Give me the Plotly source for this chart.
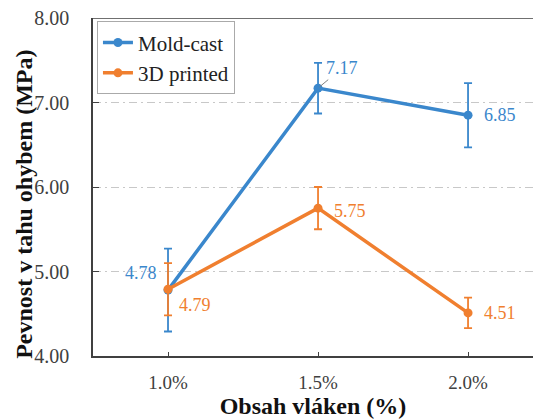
import plotly.graph_objects as go

categories = ["1.0%", "1.5%", "2.0%"]
mold_cast = [4.78, 7.17, 6.85]
mold_err = [0.49, 0.30, 0.38]
printed = [4.79, 5.75, 4.51]
printed_err = [0.31, 0.25, 0.18]
y_ticks = [4, 5, 6, 7, 8]
y_tick_labels = ["4.00", "5.00", "6.00", "7.00", "8.00"]
x_title = "Obsah vláken (%)"
y_title = "Pevnost v tahu ohybem (MPa)"

BLUE = "#3A87CC"
ORANGE = "#F07F2F"
FONT = "Liberation Serif"

fig = go.Figure()
fig.add_trace(go.Scatter(
    x=[0, 1, 2], y=mold_cast, name="Mold-cast", mode="lines+markers",
    line=dict(color=BLUE, width=3.5), marker=dict(size=9, color=BLUE),
    error_y=dict(type="data", array=mold_err, color=BLUE, thickness=1.8, width=4),
))
fig.add_trace(go.Scatter(
    x=[0, 1, 2], y=printed, name="3D printed", mode="lines+markers",
    line=dict(color=ORANGE, width=3.5), marker=dict(size=9, color=ORANGE),
    error_y=dict(type="data", array=printed_err, color=ORANGE, thickness=1.8, width=4),
))

# data labels
lab_font = dict(family=FONT, size=18)
fig.add_annotation(x=1, y=mold_cast[1], text=f"{mold_cast[1]:.2f}", showarrow=True,
                   ax=24, ay=-20, arrowhead=0, arrowwidth=1, arrowcolor="#808080",
                   standoff=2, font=dict(color=BLUE, **lab_font))
fig.add_annotation(x=2, y=mold_cast[2], text=f"{mold_cast[2]:.2f}", showarrow=False,
                   xshift=14, xanchor="left", yanchor="middle",
                   font=dict(color=BLUE, **lab_font))
fig.add_annotation(x=0, y=mold_cast[0], text=f"{mold_cast[0]:.2f}", showarrow=False,
                   xshift=-9, yshift=17, xanchor="right", yanchor="middle",
                   font=dict(color=BLUE, **lab_font))
fig.add_annotation(x=0, y=printed[0], text=f"{printed[0]:.2f}", showarrow=False,
                   xshift=9, yshift=-16, xanchor="left", yanchor="middle",
                   font=dict(color=ORANGE, **lab_font))
fig.add_annotation(x=1, y=printed[1], text=f"{printed[1]:.2f}", showarrow=False,
                   xshift=14, yshift=-3, xanchor="left", yanchor="middle",
                   font=dict(color=ORANGE, **lab_font))
fig.add_annotation(x=2, y=printed[2], text=f"{printed[2]:.2f}", showarrow=False,
                   xshift=14, xanchor="left", yanchor="middle",
                   font=dict(color=ORANGE, **lab_font))

# y-axis title (rotated text, slightly below plot centre as in the original)
fig.add_annotation(xref="paper", yref="paper", x=-0.157, y=0.45, text=f"<b>{y_title}</b>",
                   textangle=-90, showarrow=False, xanchor="center", yanchor="middle",
                   font=dict(family=FONT, size=24, color="#111111", weight="bold"))

# top border
fig.add_shape(type="line", xref="paper", yref="y", x0=0, x1=1, y0=8, y1=8,
              line=dict(color="#404040", width=1.5))

fig.update_xaxes(
    tickvals=[0, 1, 2], ticktext=categories, range=[-0.5, 2.433],
    showgrid=False, zeroline=False, showline=True, linecolor="#404040", linewidth=1.5,
    ticks="inside", ticklen=4, tickcolor="#404040", ticklabelstandoff=8,
    tickfont=dict(family=FONT, size=19, color="#404040"),
    title=dict(text=f"<b>{x_title}</b>", font=dict(family=FONT, size=24, color="#111111"),
               standoff=6),
    automargin=False,
)
fig.update_yaxes(
    tickvals=y_ticks, ticktext=y_tick_labels, range=[4, 8],
    showgrid=True, gridcolor="#C8C8C8", griddash="8px,4px,2px,4px", gridwidth=1,
    zeroline=False, showline=True, linecolor="#404040", linewidth=1.5,
    ticks="inside", ticklen=6, tickcolor="#404040", ticklabelstandoff=18,
    tickfont=dict(family=FONT, size=20, color="#404040"),
    automargin=False,
)
fig.update_layout(
    width=533, height=419,
    margin=dict(l=93, r=0, t=18, b=63),
    paper_bgcolor="white", plot_bgcolor="white",
    font=dict(family=FONT),
    showlegend=True,
    legend=dict(x=0.009, y=0.99, xanchor="left", yanchor="top",
                bgcolor="white", bordercolor="#AAAAAA", borderwidth=1,
                font=dict(family=FONT, size=21, color="#222222"),
                itemwidth=30, tracegroupgap=0),
)
fig.write_html("out.html", config={"displayModeBar": False},
               post_script="document.body.style.margin='0';")
